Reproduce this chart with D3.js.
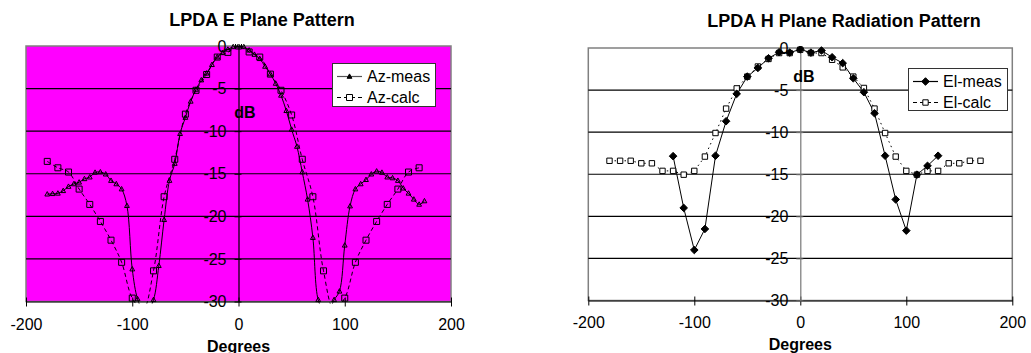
<!DOCTYPE html>
<html>
<head>
<meta charset="utf-8">
<script src="https://cdn.jsdelivr.net/npm/d3@7"></script>
<style>
  body { margin: 0; background: #fff; }
  svg { display: block; }
</style>
</head>
<body>
<svg id="chart" width="1031" height="353"></svg>
<script>
// values (degrees / dB)
const azMeasDeg = [-180,-175,-170,-165,-160,-155,-150,-145,-140,-135,-130,-125,-120,-115,-110,-105,-100,-95,-90,-85,-80,-75,-70,-65,-60,-55,-50,-45,-40,-35,-30,-25,-20,-15,-10,-5,0,5,10,15,20,25,30,35,40,45,50,55,60,65,70,75,80,85,90,95,100,105,110,115,120,125,130,135,140,145,150,155,160,165,170,175];
const azMeasDb = [-17.4,-17.35,-17.3,-17.0,-16.5,-16.2,-16.0,-15.6,-15.4,-14.85,-14.8,-15.05,-15.8,-16.2,-16.8,-18.75,-26.2,-29.7,-31,-31,-29.8,-25.8,-20.4,-15.8,-13.8,-10.3,-8.4,-6.5,-5.1,-4.0,-3.2,-2.2,-1.3,-0.8,-0.4,-0.1,0,-0.1,-0.5,-1.0,-1.5,-2.4,-3.3,-4.4,-5.8,-7.6,-9.8,-11.8,-14.8,-18.0,-22.5,-29.8,-31,-31,-29.8,-28.8,-23.4,-18.8,-16.8,-16.2,-15.7,-15.05,-14.7,-14.85,-15.4,-15.5,-15.8,-16.7,-17.3,-18.0,-18.6,-18.2];

const azCalcDeg = [-180,-170,-160,-150,-140,-130,-120,-110,-100,-90,-80,-70,-60,-50,-40,-30,-20,-10,0,10,20,30,40,50,60,70,80,90,100,110,120,130,140,150,160,170];
const azCalcDb = [-13.55,-14.3,-14.8,-16.8,-18.6,-20.6,-22.8,-25.4,-29.6,-31,-26.4,-17.7,-13.3,-8.0,-5.2,-3.35,-1.3,-0.75,0,-0.7,-1.3,-3.3,-5.2,-8.1,-13.3,-17.7,-26.4,-31,-29.6,-25.4,-22.8,-20.6,-18.6,-16.8,-14.8,-14.3];

const elMeasDeg = [-120,-110,-100,-90,-80,-70,-60,-50,-40,-30,-20,-10,0,10,20,30,40,50,60,70,80,90,100,110,120,130];
const elMeasDb = [-12.85,-19.0,-24.0,-21.5,-12.8,-8.7,-5.45,-3.4,-2.37,-1.22,-0.5,-0.55,-0.16,-0.55,-0.3,-1.1,-1.8,-3.6,-5.25,-7.75,-12.8,-18.0,-21.7,-15.05,-14.0,-12.8];

const elCalcDeg = [-180,-170,-160,-150,-140,-130,-120,-110,-100,-90,-80,-70,-60,-50,-40,-30,-20,-10,0,10,20,30,40,50,60,70,80,90,100,110,120,130,140,150,160,170];
const elCalcDb = [-13.4,-13.4,-13.4,-13.7,-13.7,-14.6,-14.6,-15.05,-14.6,-12.9,-10.1,-7.2,-4.8,-3.4,-2.2,-1.3,-0.6,-0.6,-0.2,-0.6,-0.6,-1.4,-2.3,-3.4,-4.75,-7.2,-10.1,-12.9,-14.6,-15.05,-14.6,-14.6,-13.7,-13.7,-13.4,-13.4];

const xTicks = [-200, -100, 0, 100, 200];
const yTicks = [0, -5, -10, -15, -20, -25, -30];
const yGrid = [-5, -10, -15, -20, -25];

const FONT = "'Liberation Sans', Arial, sans-serif";
const svg = d3.select("#chart");

const markers = {
  triangle: "M0,-2.6L2.4,1.8L-2.4,1.8Z",
  square: "M-3,-3h6v6h-6Z",
  diamond: "M0,-3.8L3.8,0L0,3.8L-3.8,0Z",
  smallSquare: "M-2.7,-2.7h5.4v5.4h-5.4Z"
};

const charts = [
  {
    id: "e", title: "LPDA E Plane Pattern", titleX: 262, titleY: 26,
    left: 26, right: 451, top: 46, bottom: 301.5,
    bg: "#ff00ff", yAxisColor: "#000", dbX: 245, dbY: 112,
    degreesY: 351.5, tickPad: 12,
    legend: {x: 332, y: 63, w: 103, h: 43},
    series: [
      {name: "Az-meas", deg: azMeasDeg, db: azMeasDb, marker: "triangle", fill: "none", legendFill: "#000", dash: null, smooth: true, legendStroke: "#555"},
      {name: "Az-calc", deg: azCalcDeg, db: azCalcDb, marker: "square", fill: "none", legendFill: "#fff", dash: "4,3", smooth: true, legendStroke: "#000"}
    ]
  },
  {
    id: "h", title: "LPDA H Plane Radiation Pattern", titleX: 844, titleY: 27.3,
    left: 588.3, right: 1012.3, top: 48, bottom: 300.5,
    bg: "#fff", yAxisColor: "#777", dbX: 804, dbY: 76,
    degreesY: 349.8, tickPad: 11,
    legend: {x: 908, y: 68, w: 99, h: 42},
    series: [
      {name: "El-meas", deg: elMeasDeg, db: elMeasDb, marker: "diamond", fill: "#000", legendFill: "#000", dash: null, smooth: false, legendStroke: "#000"},
      {name: "El-calc", deg: elCalcDeg, db: elCalcDb, marker: "smallSquare", fill: "#fff", legendFill: "#fff", dash: "1.5,3.5", smooth: false, legendStroke: "#000"}
    ]
  }
];

charts.forEach(function (c) {
  let x = d3.scaleLinear().domain([-200, 200]).range([c.left, c.right]);
  let y = d3.scaleLinear().domain([-30, 0]).range([c.bottom, c.top]);
  let g = svg.append("g");

  // plot area
  g.append("rect")
    .attr("x", c.left).attr("y", c.top)
    .attr("width", c.right - c.left).attr("height", c.bottom - c.top)
    .attr("fill", c.bg).attr("stroke", "#808080").attr("stroke-width", 1.5);

  g.append("g").selectAll("line")
    .data(yGrid)
    .join("line")
    .attr("x1", c.left).attr("x2", c.right)
    .attr("y1", d => y(d)).attr("y2", d => y(d))
    .attr("stroke", "#000").attr("stroke-width", 1.2);

  // x axis at the bottom
  let xAxis = g.append("g")
    .attr("transform", `translate(0,${c.bottom})`)
    .call(d3.axisBottom(x).tickValues(xTicks).tickSizeInner(5).tickSizeOuter(0)
      .tickPadding(c.tickPad).tickFormat(d => String(d)));
  xAxis.select(".domain").attr("stroke", "#000").attr("stroke-width", 1.2);
  xAxis.selectAll(".tick line").attr("stroke", "#000").attr("y1", -4);
  xAxis.selectAll("text").attr("font-family", FONT).attr("font-size", 16).attr("fill", "#000");

  // y axis crossing at 0 degrees
  let yAxis = g.append("g")
    .attr("transform", `translate(${x(0)},0)`)
    .call(d3.axisLeft(y).tickValues(yTicks).tickSizeInner(4).tickSizeOuter(0)
      .tickPadding(8).tickFormat(d => String(d)));
  yAxis.select(".domain").attr("stroke", c.yAxisColor).attr("stroke-width", 1.2);
  yAxis.selectAll(".tick line").attr("stroke", c.yAxisColor).attr("x1", 3);
  yAxis.selectAll("text").attr("font-family", FONT).attr("font-size", 16).attr("fill", "#000");

  // series, clipped to the plot area like Excel does
  g.append("clipPath").attr("id", "clip-" + c.id)
    .append("rect")
    .attr("x", c.left).attr("y", c.top - 2)
    .attr("width", c.right - c.left).attr("height", c.bottom - c.top + 4);

  let plot = g.append("g").attr("clip-path", `url(#clip-${c.id})`);

  c.series.forEach(function (s) {
    let pts = s.deg.map((d, i) => [d, s.db[i]]);
    let line = d3.line()
      .x(d => x(d[0]))
      .y(d => y(d[1]))
      .curve(s.smooth ? d3.curveCatmullRom.alpha(0.5) : d3.curveLinear);
    plot.append("path")
      .datum(pts)
      .attr("d", line)
      .attr("fill", "none")
      .attr("stroke", "#000")
      .attr("stroke-width", 1)
      .attr("stroke-dasharray", s.dash);
  });

  c.series.slice().reverse().forEach(function (s) {
    let pts = s.deg.map((d, i) => [d, s.db[i]]).filter(d => d[1] >= -30);
    plot.append("g").selectAll("path")
      .data(pts)
      .join("path")
      .attr("transform", d => `translate(${x(d[0])},${y(d[1])})`)
      .attr("d", markers[s.marker])
      .attr("fill", s.fill)
      .attr("stroke", "#000")
      .attr("stroke-width", 1);
  });

  // legend
  let lg = g.append("g").attr("transform", `translate(${c.legend.x},${c.legend.y})`);
  lg.append("rect")
    .attr("x", 0.5).attr("y", 0.5)
    .attr("width", c.legend.w).attr("height", c.legend.h)
    .attr("fill", "#fff").attr("stroke", "#333").attr("stroke-width", 1);
  c.series.forEach(function (s, i) {
    let ly = 13.5 + i * 21;
    lg.append("line")
      .attr("x1", 5).attr("x2", 30).attr("y1", ly).attr("y2", ly)
      .attr("stroke", s.legendStroke).attr("stroke-width", 1.2)
      .attr("stroke-dasharray", s.dash ? "4,3" : null);
    lg.append("path")
      .attr("transform", `translate(17.5,${ly})`)
      .attr("d", markers[s.marker])
      .attr("fill", s.legendFill)
      .attr("stroke", "#000");
    lg.append("text")
      .attr("x", 35).attr("y", ly)
      .attr("dy", "0.35em")
      .attr("font-family", FONT).attr("font-size", 16)
      .text(s.name);
  });

  // titles
  g.append("text")
    .attr("x", c.titleX).attr("y", c.titleY)
    .attr("text-anchor", "middle")
    .attr("font-family", FONT).attr("font-size", 18).attr("font-weight", "bold")
    .text(c.title);
  g.append("text")
    .attr("x", c.dbX).attr("y", c.dbY).attr("dy", "0.35em")
    .attr("text-anchor", "middle")
    .attr("font-family", FONT).attr("font-size", 16).attr("font-weight", "bold")
    .text("dB");
  g.append("text")
    .attr("x", x(0)).attr("y", c.degreesY)
    .attr("text-anchor", "middle")
    .attr("font-family", FONT).attr("font-size", 16).attr("font-weight", "bold")
    .text("Degrees");
});
</script>
</body>
</html>
